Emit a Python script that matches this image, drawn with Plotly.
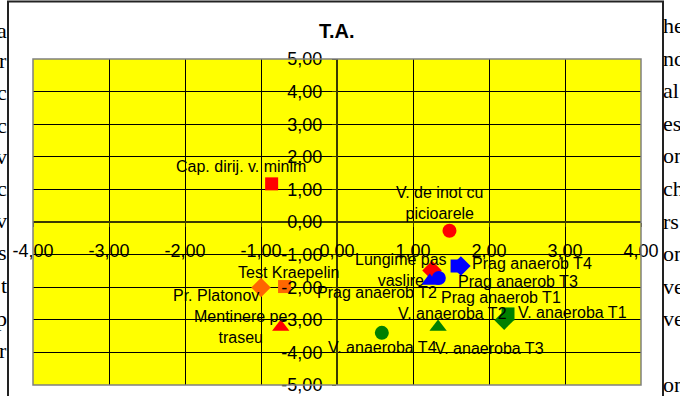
import plotly.graph_objects as go

# ---- data -------------------------------------------------------------
labels = [
    "Cap. dirij. v. minim", "V. de inot cu<br>picioarele", "Lungime pas<br>vaslire",
    "Mentinere pe<br>traseu", "Test Kraepelin", "Pr. Platonov",
    "Prag anaerob T1", "Prag anaerob T2", "Prag anaerob T3", "Prag anaerob T4",
    "V. anaeroba T1", "V. anaeroba T2", "V. anaeroba T3", "V. anaeroba T4",
]
x_vals = [-0.86, 1.48, 1.25, -0.74, -0.69, -1.00,
          1.34, 1.22, 1.63, 1.58,
          2.25, 1.33, 2.20, 0.59]
y_vals = [1.17, -0.27, -1.49, -3.22, -1.98, -2.01,
          -1.72, -1.81, -1.35, -1.35,
          -2.82, -3.22, -3.01, -3.40]

x_ticks = [-4, -3, -2, -1, 0, 1, 2, 3, 4]
y_ticks = [-5, -4, -3, -2, -1, 0, 1, 2, 3, 4, 5]

# ---- styles -----------------------------------------------------------
RED, ORANGE, BLUE, GREEN = "#FF0000", "#FF6600", "#0000FF", "#008000"
colors = [RED, RED, RED, RED, ORANGE, ORANGE,
          BLUE, BLUE, BLUE, BLUE, GREEN, GREEN, GREEN, GREEN]
symbols = ["square", "circle", "diamond", "triangle-up", "square", "diamond",
           "circle", "triangle-up", "diamond", "square",
           "square", "triangle-up", "diamond", "circle"]
sizes = {"square": 13, "circle": 14, "diamond": 15, "triangle-up": 15}
# label offsets (pixels) from each marker
label_dx = [-31, -10, -31, -40, 4, -45, 62, -53, 57, 75, 64, 14, -15, 1]
label_dy = [17, 28, 1, 0, 14, -8, -19, -11, -15, 3, 1, 13, -28, -15]
# draw order so squares sit above the diamonds they overlap
draw_order = [0, 1, 2, 3, 5, 4, 7, 6, 8, 9, 12, 10, 11, 13]

W, H = 680, 396
L, R, T, B = 33, 39, 59, 11
PW, PH = W - L - R, H - T - B


def px(xp):
    return (xp - L) / PW


def py(yp):
    return (H - B - yp) / PH


def fmt(v):
    return f"{v:.2f}".replace(".", ",")


FONT = "Liberation Sans, Arial, sans-serif"
SERIF = "Liberation Serif, Times New Roman, serif"

fig = go.Figure()
for i in draw_order:
    fig.add_trace(go.Scatter(
        x=[x_vals[i]], y=[y_vals[i]], mode="markers",
        name=labels[i].replace("<br>", " "),
        marker=dict(symbol=symbols[i], size=sizes[symbols[i]],
                    color=colors[i], line=dict(width=0)),
        showlegend=False, cliponaxis=False,
    ))

annotations = []
for i, text in enumerate(labels):
    annotations.append(dict(
        x=x_vals[i], y=y_vals[i], xref="x", yref="y", text=text,
        showarrow=False, xanchor="center", yanchor="middle",
        xshift=label_dx[i], yshift=label_dy[i],
        font=dict(family=FONT, size=16, color="black"),
    ))

annotations.append(dict(
    x=0.5, y=py(31), xref="paper", yref="paper", text="<b>T.A.</b>",
    showarrow=False, xanchor="center", yanchor="middle",
    font=dict(family=FONT, size=20, color="black"),
))

# surrounding page text
left_text = [("a", 30), ("r", 61), ("c", 93), ("c", 125), ("v", 156), ("c", 188),
             ("v", 220), ("s", 252), ("t", 285), ("p", 318), ("r", 350)]
right_text = [("he", 26), ("nd", 58), ("al", 90), ("es", 123), ("on", 155), ("ch", 188),
              ("rs", 221), ("on", 253), ("ve", 286), ("ve", 318), ("on", 384)]
for t, yp in left_text:
    annotations.append(dict(x=px(9), y=py(yp), xref="paper", yref="paper", text=t,
                            showarrow=False, xanchor="right", yanchor="middle",
                            font=dict(family=SERIF, size=22, color="black")))
for t, yp in right_text:
    annotations.append(dict(x=px(661), y=py(yp), xref="paper", yref="paper", text=t,
                            showarrow=False, xanchor="left", yanchor="middle",
                            font=dict(family=SERIF, size=22, color="black")))

shapes = [
    # chart frame
    dict(type="rect", xref="paper", yref="paper",
         x0=px(8), x1=px(663), y0=py(402), y1=py(1.5),
         line=dict(color="#222222", width=2), fillcolor="rgba(0,0,0,0)", layer="below"),
    # plot area border
    dict(type="rect", xref="paper", yref="paper", x0=0, x1=1, y0=0, y1=1,
         line=dict(color="#808080", width=1.5), fillcolor="rgba(0,0,0,0)", layer="above"),
]

axis_common = dict(
    showgrid=True, gridcolor="black", gridwidth=1,
    zeroline=False, showline=True, linecolor="#3a3a00", linewidth=2,
    ticks="outside", ticklen=4, tickcolor="#3a3a00",
    anchor="free", position=0.5, fixedrange=True, automargin=False,
    tickfont=dict(family=FONT, size=18, color="black"),
)

fig.update_layout(
    template="none",
    width=W, height=H, autosize=False,
    margin=dict(l=L, r=R, t=T, b=B, pad=0),
    paper_bgcolor="white", plot_bgcolor="#FFFF00",
    xaxis=dict(range=[-4, 4], tickmode="array", tickvals=x_ticks,
               ticktext=[fmt(v) for v in x_ticks], ticklabelstandoff=8, **axis_common),
    yaxis=dict(range=[-5, 5], tickmode="array", tickvals=y_ticks,
               ticktext=[fmt(v) for v in y_ticks], ticklabelstandoff=6, **axis_common),
    annotations=annotations, shapes=shapes,
    font=dict(family=FONT),
    showlegend=False,
)

fig.write_html("out.html")
